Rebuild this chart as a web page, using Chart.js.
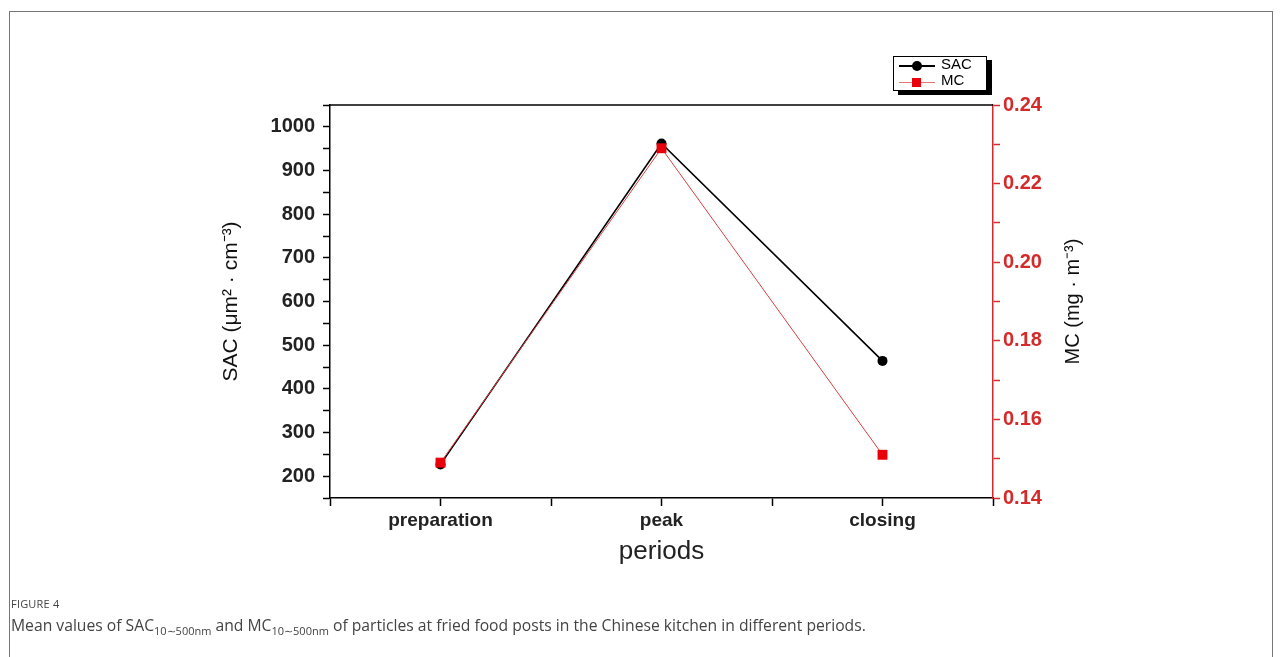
<!DOCTYPE html>
<html>
<head>
<meta charset="utf-8">
<script src="https://cdn.jsdelivr.net/npm/chart.js@4"></script>
<style>
  body { margin: 0; background: #fff; }
  #wrap { position: relative; width: 1281px; height: 657px; overflow: hidden; }
  #frame { position: absolute; left: 9px; top: 11px; width: 1262px; height: 700px; border: 1px solid #777; }
  canvas { position: absolute; left: 0; top: 0; }
  #legend { position: absolute; left: 893px; top: 56px; width: 92px; height: 33px; border: 1px solid #000;
    background: #fff; box-shadow: 5px 4px 0 #000; font: 15px "Liberation Sans", Arial, sans-serif; }
  .row { position: absolute; left: 5px; height: 14px; }
  .row .ln { position: absolute; left: 0; top: 7px; width: 36px; height: 2px; }
  .row .mk { position: absolute; }
  .row .tx { position: absolute; left: 42px; top: -3px; }
  #cap { position: absolute; left: 11px; top: 596px; font-family: "Open Sans", sans-serif; color: #555; }
  #cap .fig { font-size: 11px; letter-spacing: 0.2px; color: #444; }
  #cap .txt { font-size: 15.7px; margin-top: 3px; color: #444; }
  #cap sub { font-size: 11px; }
</style>
</head>
<body>
<div id="wrap">
  <div id="frame"></div>
  <canvas id="chart" width="1281" height="657"></canvas>
  <div id="legend">
    <div class="row" style="top:1px"><div class="ln" style="background:#000"></div>
      <div class="mk" style="left:13px;top:3px;width:10px;height:10px;border-radius:50%;background:#000"></div>
      <span class="tx">SAC</span></div>
    <div class="row" style="top:17px"><div class="ln" style="background:#e07878;height:1px;top:8px"></div>
      <div class="mk" style="left:13px;top:4px;width:9px;height:9px;background:#e8000b"></div>
      <span class="tx">MC</span></div>
  </div>
  <div id="cap">
    <div class="fig">FIGURE 4</div>
    <div class="txt">Mean values of SAC<sub>10∼500nm</sub> and MC<sub>10∼500nm</sub> of particles at fried food posts in the Chinese kitchen in different periods.</div>
  </div>
</div>
<script>
// chart values
var categories = ['preparation', 'peak', 'closing'];
var sacValues = [227, 962, 464];
var mcValues = [0.149, 0.229, 0.151];
var sacRange = [150, 1050];
var mcRange = [0.14, 0.24];

var red = '#d42a2a';
var tickFont = { family: 'Liberation Sans', size: 20, weight: 'bold' };

// top frame line + right axis title (reads bottom to top)
var framePlugin = {
  id: 'frame',
  afterDraw: function (chart) {
    var c = chart.ctx, a = chart.chartArea;
    c.save();
    c.strokeStyle = '#000';
    c.lineWidth = 1.5;
    c.beginPath();
    c.moveTo(a.left, a.top);
    c.lineTo(a.right, a.top);
    c.stroke();
    c.translate(1073, (a.top + a.bottom) / 2);
    c.rotate(-Math.PI / 2);
    c.font = '20px "Liberation Sans"';
    c.fillStyle = '#111';
    c.textAlign = 'center';
    c.textBaseline = 'middle';
    c.fillText('MC (mg · m⁻³)', 0, 0);
    c.restore();
  }
};

var ctx = document.getElementById('chart').getContext('2d');
new Chart(ctx, {
  type: 'line',
  data: {
    datasets: [{
      label: 'MC',
      data: mcValues.map(function (v, i) { return { x: i + 0.5, y: v }; }),
      yAxisID: 'y2',
      borderColor: '#d84040',
      borderWidth: 1,
      pointStyle: 'rect',
      pointRadius: 7,
      pointBackgroundColor: '#e8000b',
      pointBorderWidth: 0,
      order: 0
    }, {
      label: 'SAC',
      data: sacValues.map(function (v, i) { return { x: i + 0.5, y: v }; }),
      yAxisID: 'y',
      borderColor: '#000',
      borderWidth: 1.6,
      pointStyle: 'circle',
      pointRadius: 5,
      pointBackgroundColor: '#000',
      pointBorderWidth: 0,
      order: 1
    }]
  },
  options: {
    responsive: false,
    animation: false,
    layout: { padding: { left: 210, right: 188, top: 105, bottom: 89 } },
    plugins: { legend: { display: false }, tooltip: { enabled: false } },
    scales: {
      x: {
        type: 'linear', min: 0, max: categories.length,
        afterFit: function (s) { s.height = 70; },
        ticks: {
          stepSize: 0.5, autoSkip: false, maxRotation: 0, padding: 3,
          color: '#222', font: { family: 'Liberation Sans', size: 19, weight: 'bold' },
          callback: function (v) {
            var k = v - 0.5;
            return Number.isInteger(k) ? categories[k] : '';
          }
        },
        grid: { drawOnChartArea: false, tickLength: 8, color: '#000', tickWidth: 1.5 },
        border: { color: '#000', width: 1.5 },
        title: { display: true, text: 'periods', color: '#222',
          font: { family: 'Liberation Sans', size: 26 }, padding: { bottom: 1 } }
      },
      y: {
        position: 'left', min: sacRange[0], max: sacRange[1],
        afterFit: function (s) { s.width = 120; },
        ticks: {
          stepSize: 50, maxTicksLimit: 40, autoSkip: false, color: '#222', font: tickFont, padding: 8,
          callback: function (v) { return v % 100 === 0 && v < sacRange[1] ? v : ''; }
        },
        grid: { drawOnChartArea: false, tickLength: 7, color: '#000', tickWidth: 1.5 },
        border: { color: '#000', width: 1.5 },
        title: { display: true, text: 'SAC (μm² · cm⁻³)', color: '#111',
          font: { family: 'Liberation Sans', size: 21 }, padding: { top: 9 } }
      },
      y2: {
        position: 'right', min: mcRange[0], max: mcRange[1],
        afterFit: function (s) { s.width = 100; },
        ticks: {
          stepSize: 0.01, maxTicksLimit: 40, autoSkip: false, color: red, font: tickFont, padding: 3,
          callback: function (v) {
            var k = Math.round(v * 100);
            return k % 2 === 0 ? (k / 100).toFixed(2) : '';
          }
        },
        grid: { drawOnChartArea: false, tickLength: 7, color: red, tickWidth: 1.5 },
        border: { color: red, width: 1.5 }
      }
    }
  },
  plugins: [framePlugin]
});
</script>
</body>
</html>
